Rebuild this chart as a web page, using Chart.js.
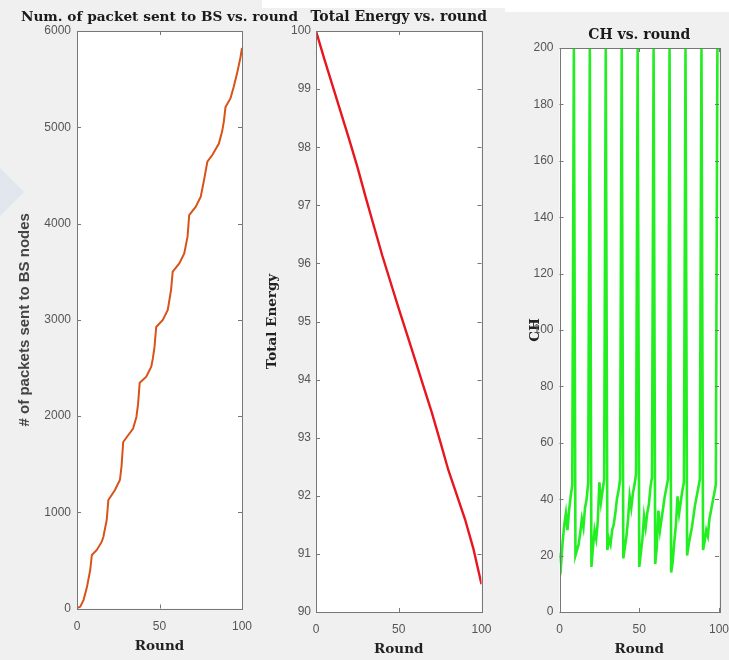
<!DOCTYPE html>
<html><head><meta charset="utf-8">
<script src="https://cdn.jsdelivr.net/npm/chart.js@4.4.0/dist/chart.umd.min.js"></script>
<style>
html,body{margin:0;padding:0;background:#f0f0f0;width:729px;height:660px;overflow:hidden;position:relative}
canvas{position:absolute;top:0}
.wm{position:absolute;left:-24px;top:172px;width:40px;height:40px;background:#e2e7ed;transform:rotate(45deg)}
</style></head><body>
<div style="position:absolute;left:262px;top:0;width:467px;height:8px;background:#fff"></div>
<div style="position:absolute;left:505px;top:0;width:224px;height:12px;background:#fff"></div>
<div class="wm"></div>
<canvas id="c1" width="300" height="660" style="left:0;width:300px;height:660px"></canvas>
<canvas id="c2" width="260" height="660" style="left:250px;width:260px;height:660px"></canvas>
<canvas id="c3" width="224" height="660" style="left:505px;width:224px;height:660px"></canvas>
<script>
// ---------- data ----------
const roundTicks = [0, 50, 100];

const packetRounds = [0,2,4,6,8,9,12,15,16,18,19,23,26,27,28,31,34,36,37,38,42,45,46,47,48,52,55,57,58,62,65,67,68,72,75,77,79,82,86,88,89,90,93,95,97,99,100];
const packetValues = [0,20,90,220,400,556,608,694,746,919,1127,1231,1335,1480,1730,1800,1870,1990,2120,2345,2408,2512,2600,2720,2925,2997,3101,3309,3499,3586,3690,3863,4088,4175,4279,4452,4642,4712,4830,4960,5060,5210,5300,5420,5560,5720,5823];
const packetTicks = [0,1000,2000,3000,4000,5000,6000];

const energyRounds = [0,5,10,15,20,25,30,35,40,45,50,55,60,65,70,75,80,85,90,95,100];
const energyValues = [100,99.52,99.06,98.6,98.14,97.66,97.14,96.64,96.14,95.68,95.22,94.78,94.33,93.88,93.43,92.94,92.44,92.02,91.6,91.1,90.48];
const energyTicks = [90,91,92,93,94,95,96,97,98,99,100];

const chValues = [
  21,17,25,31,35,29,36,41,45,200,
  20,22,24,28,33,30,37,40,46,200,
  16,23,29,26,32,46,39,43,47,200,
  22,26,24,29,31,35,40,43,47,200,
  19,23,27,33,41,37,42,45,49,200,
  16,21,26,34,30,35,38,44,48,200,
  17,23,36,29,33,37,41,44,47,200,
  14,18,25,31,41,35,39,43,46,200,
  20,24,27,30,34,38,41,44,47,200,
  22,25,29,27,33,36,39,42,45,200,
  200
];
const chRounds = chValues.map((v, i) => i);
const chTicks = [0,20,40,60,80,100,120,140,160,180,200];

// ---------- helpers ----------
const SERIF = "'DejaVu Serif', serif";
const SANS = "'Liberation Sans', Arial, sans-serif";

const framePlugin = {
  id: 'frame',
  beforeDraw(chart) {
    const a = chart.chartArea, ctx = chart.ctx;
    ctx.save(); ctx.fillStyle = '#ffffff';
    ctx.fillRect(a.left, a.top, a.right - a.left, a.bottom - a.top);
    ctx.restore();
  },
  afterDraw(chart, args, opts) {
    const a = chart.chartArea, ctx = chart.ctx;
    const xs = chart.scales.x, ys = chart.scales.y;
    ctx.save();
    ctx.strokeStyle = '#777777'; ctx.lineWidth = 1;
    ctx.strokeRect(Math.round(a.left) + 0.5, Math.round(a.top) + 0.5,
      Math.round(a.right - a.left), Math.round(a.bottom - a.top));
    ctx.beginPath();
    ys.ticks.forEach(t => {
      const p = Math.round(ys.getPixelForValue(t.value)) + 0.5;
      ctx.moveTo(a.left, p); ctx.lineTo(a.left + 4, p);
      ctx.moveTo(a.right, p); ctx.lineTo(a.right - 4, p);
    });
    xs.ticks.forEach(t => {
      const p = Math.round(xs.getPixelForValue(t.value)) + 0.5;
      ctx.moveTo(p, a.bottom); ctx.lineTo(p, a.bottom - 4);
      ctx.moveTo(p, a.top); ctx.lineTo(p, a.top + 4);
    });
    ctx.stroke();
    // panel title, centred over the axes
    ctx.fillStyle = '#1a1a1a';
    ctx.font = 'bold ' + opts.size + 'px ' + SERIF;
    ctx.textAlign = 'center'; ctx.textBaseline = 'middle';
    ctx.fillText(opts.text, (a.left + a.right) / 2, opts.y);
    ctx.restore();
  }
};

function makeChart(id, cfg) {
  const data = cfg.rounds.map((r, i) => ({x: r, y: cfg.values[i]}));
  return new Chart(document.getElementById(id), {
    type: 'line',
    data: {datasets: [{data, borderColor: cfg.color, borderWidth: cfg.lw, pointRadius: 0, tension: 0, fill: false}]},
    options: {
      responsive: false, animation: false, events: [],
      layout: {padding: {left: 0, top: cfg.top, right: cfg.right, bottom: 0}},
      plugins: {legend: {display: false}, tooltip: {enabled: false},
        frame: {text: cfg.title, y: cfg.titleY, size: cfg.tsize}},
      scales: {
        x: {
          type: 'linear', min: 0, max: 100,
          grid: {display: false, drawTicks: false}, border: {display: false},
          afterBuildTicks: s => { s.ticks = roundTicks.map(v => ({value: v})); },
          afterFit: s => { s.height = cfg.xh; s.paddingLeft = 0; s.paddingRight = 0; },
          ticks: {autoSkip: false, maxRotation: 0, padding: 10.5, color: '#555',
            font: {family: SANS, size: 12}, callback: v => String(v)},
          title: {display: true, text: 'Round', color: '#222',
            font: {family: SERIF, size: 13.5, weight: 'bold'}, padding: {top: 0, bottom: cfg.xtb}}
        },
        y: {
          type: 'linear', min: cfg.min, max: cfg.max,
          grid: {display: false, drawTicks: false}, border: {display: false},
          afterBuildTicks: s => { s.ticks = cfg.ticks.map(v => ({value: v})); },
          afterFit: s => { s.width = cfg.yw; s.paddingTop = 0; s.paddingBottom = 0; },
          ticks: {autoSkip: false, padding: cfg.ypad, color: '#555',
            font: {family: SANS, size: 12}, callback: v => String(v)},
          title: {display: true, text: cfg.ytitle, color: cfg.ytColor,
            font: cfg.ytFont, padding: {top: cfg.ytp, bottom: 0}}
        }
      }
    },
    plugins: [framePlugin]
  });
}

makeChart('c1', {
  rounds: packetRounds, values: packetValues, ticks: packetTicks, min: 0, max: 6000,
  color: '#d95319', lw: 2, title: 'Num. of packet sent to BS vs. round', titleY: 17, tsize: 13.7,
  top: 31, right: 58, xh: 51.5, yw: 77, ypad: 6, xtb: 5.9,
  ytitle: '# of packets sent to BS nodes', ytColor: '#444',
  ytFont: {family: SANS, size: 15, weight: 'bold'}, ytp: 16
});
makeChart('c2', {
  rounds: energyRounds, values: energyValues, ticks: energyTicks, min: 90, max: 100,
  color: '#e8161e', lw: 2.4, title: 'Total Energy vs. round', titleY: 17, tsize: 14,
  top: 31, right: 28.5, xh: 48, yw: 66, ypad: 5, xtb: 2.4,
  ytitle: 'Total Energy', ytColor: '#222',
  ytFont: {family: SERIF, size: 13.5, weight: 'bold'}, ytp: 13.9
});
makeChart('c3', {
  rounds: chRounds, values: chValues, ticks: chTicks, min: 0, max: 200,
  color: '#22ee22', lw: 2.6, title: 'CH vs. round', titleY: 35, tsize: 14,
  top: 48, right: 10, xh: 48, yw: 54.5, ypad: 6, xtb: 2.4,
  ytitle: 'CH', ytColor: '#222',
  ytFont: {family: SERIF, size: 13.5, weight: 'bold'}, ytp: 21.9
});
</script>
</body></html>
